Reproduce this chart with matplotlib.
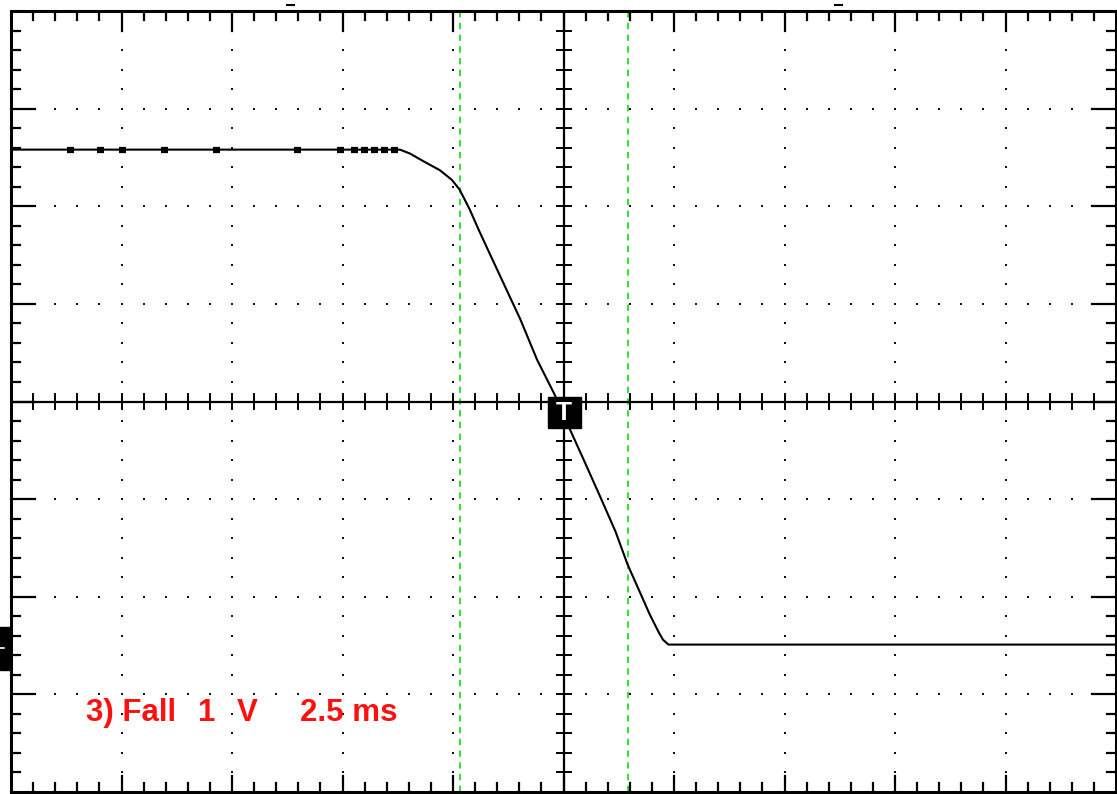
import numpy as np
import matplotlib
matplotlib.use("Agg")
import matplotlib.pyplot as plt
from matplotlib.patches import Rectangle

# ---- data (screen divisions: x -5..5, y -4..4) ----
trace_x = [-5.0, -1.48, -1.39, -1.25, -1.12, -1.01, -0.94, -0.85, -0.76, -0.67,
           -0.53, -0.39, -0.24, -0.08, 0.06, 0.18, 0.33, 0.47, 0.58, 0.69,
           0.78, 0.86, 0.90, 0.95, 5.0]
trace_y = [2.58, 2.58, 2.54, 2.45, 2.37, 2.27, 2.17, 1.97, 1.74, 1.52,
           1.18, 0.84, 0.43, 0.07, -0.29, -0.59, -0.97, -1.33, -1.67, -1.95,
           -2.18, -2.36, -2.44, -2.49, -2.49]
glitch_x = [-4.46, -4.19, -3.99, -3.61, -3.14, -2.41, -2.02, -1.89, -1.80,
            -1.71, -1.62, -1.53]
cursor_x = [-0.937, 0.584]
label_parts = ["3) Fall", "1", "V", "2.5 ms"]
label_px = [86, 198, 237, 300]   # left edge of each part, pixels

XDIV, YDIV = 110.5, 97.6   # pixels per division
X0 = 563.5

fig = plt.figure(figsize=(11.17, 7.94), dpi=100)
ax = fig.add_axes([11 / 1117, 2 / 794, 1105 / 1117, 781 / 794])
ax.set_xlim(-5, 5)
ax.set_ylim(-4, 4)
ax.set_axis_off()

K = 'black'
lw_frame = 2.2
ax.plot([-5, 5, 5, -5, -5], [-4, -4, 4, 4, -4], color=K, lw=lw_frame,
        solid_joinstyle='miter', clip_on=False, zorder=3)

minor_x = np.round(np.arange(-5, 5.001, 0.2), 6)
minor_y = np.round(np.arange(-4, 4.001, 0.2), 6)

def px_x(p):
    return p / XDIV

def px_y(p):
    return p / YDIV

# frame ticks
for xv in minor_x:
    if abs(xv) == 5.0:
        continue
    major = abs(xv - round(xv)) < 1e-6
    L = px_y(20 if major else 9)
    ax.plot([xv, xv], [4, 4 - L], color=K, lw=1.6, zorder=3)
    Lb = px_y(16 if major else 9)
    ax.plot([xv, xv], [-4, -4 + Lb], color=K, lw=1.6, zorder=3)
for yv in minor_y:
    if abs(yv) == 4.0:
        continue
    major = abs(yv - round(yv)) < 1e-6
    L = px_x(24 if major else 9)
    ax.plot([-5, -5 + L], [yv, yv], color=K, lw=1.6, zorder=3)
    ax.plot([5, 5 - L], [yv, yv], color=K, lw=1.6, zorder=3)

# central axes
ax.plot([-5, 5], [0, 0], color=K, lw=1.6, zorder=3)
ax.plot([0, 0], [-4, 4], color=K, lw=1.6, zorder=3)
for xv in minor_x:
    if abs(abs(xv) - 5) < 1e-6:
        continue
    ax.plot([xv, xv], [-px_y(7), px_y(7)], color=K, lw=1.4, zorder=3)
for yv in minor_y:
    if abs(abs(yv) - 4) < 1e-6:
        continue
    ax.plot([-px_x(7), px_x(7)], [yv, yv], color=K, lw=1.4, zorder=3)

# grid dots
dots_x, dots_y = [], []
for gx in range(-4, 5):
    if gx == 0:
        continue
    for yv in minor_y[1:-1]:
        dots_x.append(gx); dots_y.append(yv)
for gy in range(-3, 4):
    if gy == 0:
        continue
    for xv in minor_x[1:-1]:
        dots_x.append(xv); dots_y.append(gy)
ax.scatter(dots_x, dots_y, s=3.2, color='#111111', marker='s', lw=0, zorder=2)

# cursors
for cx in cursor_x:
    ax.plot([cx, cx], [-4, 4], color='#1ee01e', lw=1.3, dashes=(3.5, 3.0), zorder=2)

# trace
ax.plot(trace_x, trace_y, color=K, lw=1.5, zorder=4)
for gx in glitch_x:
    ax.plot([gx - 0.03, gx + 0.03], [trace_y[0], trace_y[0]], color=K, lw=4.5,
            solid_capstyle='butt', zorder=4)

# trigger marker
ax.add_patch(Rectangle((-px_x(16), -px_y(26)), px_x(33), px_y(30),
                       facecolor=K, edgecolor=K, zorder=6))
ax.text(px_x(0.5), -px_y(11), "T", color='white', fontsize=19, fontweight='bold',
        family='Liberation Sans', ha='center', va='center', zorder=7)

# left ground marker
ax.add_patch(Rectangle((-5 - px_x(11), -2.75), px_x(11), 0.44,
                       facecolor=K, edgecolor=K, clip_on=False, zorder=6))
ax.plot([-5 - px_x(11), -5 - px_x(7)], [-2.53, -2.53], color='white', lw=1.2,
        clip_on=False, zorder=7)

# top markers
for mx in [(290 - X0) / XDIV, (838 - X0) / XDIV]:
    ax.plot([mx - px_x(3.5), mx + px_x(3.5)], [4 + px_y(6), 4 + px_y(6)],
            color=K, lw=1.5, clip_on=False, zorder=6)

for txt, p in zip(label_parts, label_px):
    ax.text((p - X0) / XDIV, -3.27, txt, color='#ff1010', fontsize=22.5,
            fontweight='bold', family='Liberation Sans', ha='left',
            va='baseline', zorder=5)

fig.savefig("out.png", dpi=100, facecolor='white')
